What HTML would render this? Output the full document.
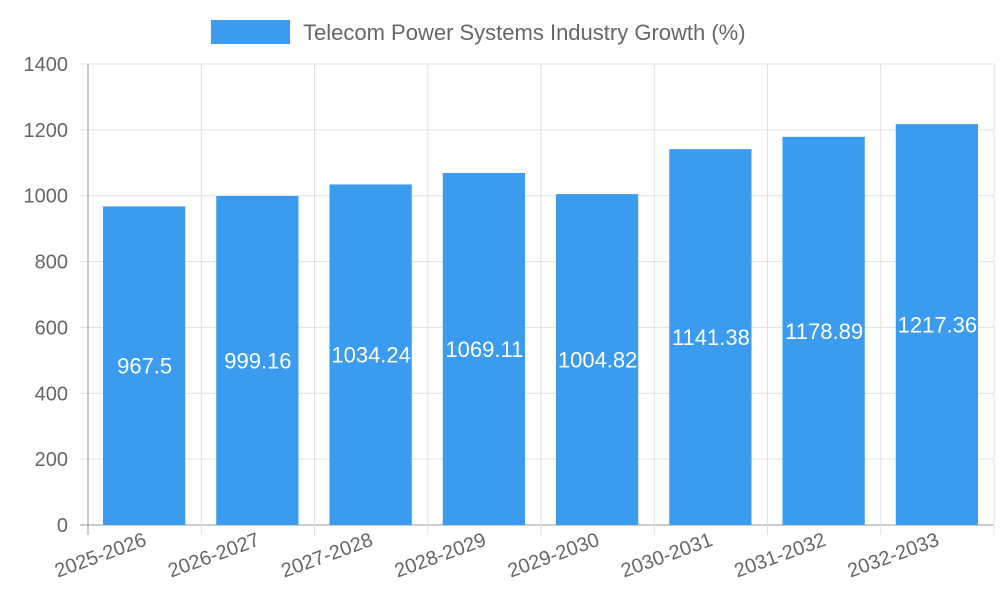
<!DOCTYPE html>
<html><head><meta charset="utf-8"><style>body{margin:0;background:#fff}svg{display:block;font-family:"Liberation Sans",sans-serif}</style></head>
<body>
<svg id="c" width="1000" height="600">
<g>
<rect x="211" y="20" width="79" height="24" fill="#3a9bef"></rect>
<text x="303" y="40" font-size="22" fill="#666">Telecom Power Systems Industry Growth (%)</text>
</g>
</svg>
<script>
const categories=["2025-2026","2026-2027","2027-2028","2028-2029","2029-2030","2030-2031","2031-2032","2032-2033"];
const values=[967.5,999.16,1034.24,1069.11,1004.82,1141.38,1178.89,1217.36];
const yTicks=[0,200,400,600,800,1000,1200,1400];
const svg=document.getElementById('c');const NS='http://www.w3.org/2000/svg';
const L=88,R=994,T=64,B=525,yMax=1400;
const y=v=>B-(v/yMax)*(B-T);
const bw=(R-L)/categories.length;
const x=i=>L+i*bw;
function mk(t,a,p){const e=document.createElementNS(NS,t);for(const k in a)e.setAttribute(k,a[k]);(p||svg).appendChild(e);return e;}
const grid=mk('g',{});


yTicks.forEach(v=>{
 const l=mk('line',{x1:L-8,x2:R,y1:y(v),y2:y(v),stroke:v===0?'#999':'#e0e0e0'},grid);
 
 
 const t=mk('text',{x:L-20,y:y(v)+7,'text-anchor':'end','font-size':20,fill:'#666'});
 t.textContent=v;
 
 
});
for(let i=0;i<=categories.length;i++){
 const l=mk('line',{x1:x(i),x2:x(i),y1:T,y2:B+10,stroke:i===0?'#999':'#e0e0e0'},grid);
 
 
}
categories.forEach((c,i)=>{
 const v=values[i];
 const r=mk('rect',{x:x(i)+15,y:y(v),width:bw-31,height:B-y(v),fill:'#3a9bef'});
 
 
 const vt=mk('text',{x:x(i)+bw/2,y:(y(v)+B)/2+8,'text-anchor':'middle','font-size':22,fill:'#fff'});
 vt.textContent=v;
 
 
 const cx=x(i)+bw/2+3,cy=545;
 const t=mk('text',{x:cx,y:cy,'text-anchor':'end','font-size':20,fill:'#666',transform:`rotate(-20 ${cx} ${cy})`});
 t.textContent=c;
 
 
});
</script>
</body></html>
